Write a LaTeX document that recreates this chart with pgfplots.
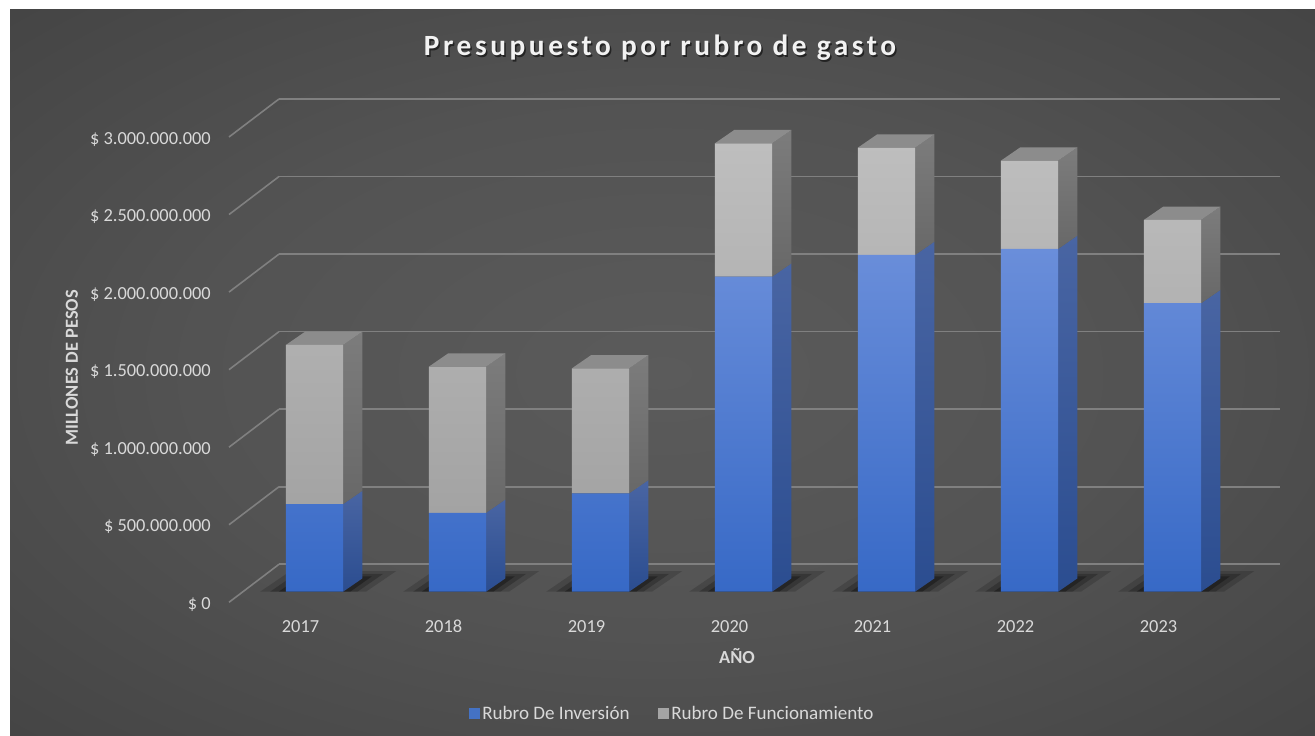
\documentclass[border=0pt]{standalone}
\usepackage{pgfplots}
\pgfplotsset{compat=1.18}
\usepackage{pgfplotstable}
\usepackage{fontspec}
\setmainfont{Carlito}
\newfontfamily\titlefont[LetterSpace=12.2]{Carlito}

\definecolor{blueT}{HTML}{6A8EDA}
\definecolor{blueB}{HTML}{3769C6}
\definecolor{bsideT}{HTML}{4965A3}
\definecolor{bsideB}{HTML}{2B4D90}
\definecolor{grayT}{HTML}{BEBEBE}
\definecolor{grayB}{HTML}{A3A3A3}
\definecolor{gsideT}{HTML}{7C7C7C}
\definecolor{gsideB}{HTML}{686868}
\definecolor{gtop}{HTML}{8C8C8C}
\definecolor{gridc}{HTML}{808080}
\definecolor{txt}{HTML}{D9D9D9}
\definecolor{legblue}{HTML}{4472C4}
\definecolor{leggray}{HTML}{A5A5A5}
\definecolor{bgA}{HTML}{5B5B5B}
\definecolor{bgB}{HTML}{535353}
\definecolor{bgC}{HTML}{3D3D3D}
\definecolor{bgD}{HTML}{292929}

\pgfdeclareradialshading{bgshade}{\pgfpoint{0bp}{0bp}}{color(0bp)=(bgA); color(18bp)=(bgB); color(45bp)=(bgC); color(72bp)=(bgD)}

% values in millions of pesos
\pgfplotstableread{
x year inv fun
0 2017 565 1026
1 2018 509 942
2 2019 634 806
3 2020 2031 860
4 2021 2171 692
5 2022 2210 569
6 2023 1860 537
}\datatable

\pgfplotsset{base/.style={scale only axis, width=750.75pt, height=348.975pt,
  xmin=-0.5, xmax=6.5, ymin=0, ymax=3000, clip=false}}

\begin{document}
\begin{tikzpicture}[x=0.75pt,y=0.75pt]
\useasboundingbox (0,0) rectangle (1315,736);
\fill[white] (0,0) rectangle (1315,736);
\shade[shading=bgshade] (10,0) rectangle (1315,726);
\coordinate (BW) at (279,171.7);
\coordinate (BP) at (243,144.3);

% back wall grid
\begin{axis}[base, at={(BW)}, anchor=south west,
  axis line style={draw=none}, tick style={draw=none},
  xtick=\empty, ytick={0,500,...,3000},
  yticklabel style={text opacity=0, opacity=0},
  ymajorgrids, grid style={gridc, line width=1.2pt}]
\end{axis}
% side wall lines
\foreach \k in {0,...,6} \draw[gridc, line width=1.2pt] (229,{133.7+\k*77.55}) -- ++(50,38);

% shadows, side and top faces
\begin{axis}[base, at={(BP)}, anchor=south west, hide axis]
\pgfplotsinvokeforeach{0,...,6}{%
  \pgfplotstablegetelem{#1}{inv}\of\datatable
  \pgfmathsetmacro\vi{\pgfplotsretval}%
  \pgfplotstablegetelem{#1}{fun}\of\datatable
  \pgfmathsetmacro\vt{\vi+\pgfplotsretval}%
  \pgfmathsetmacro\xl{#1-0.2}%
  \pgfmathsetmacro\xr{#1+0.2}%
  \pgfmathsetmacro\xlb{#1-0.2+0.135}%
  \pgfmathsetmacro\xrb{#1+0.2+0.135}%
  \pgfmathsetmacro\vib{\vi+85.8}%
  \pgfmathsetmacro\vtb{\vt+85.8}%
  \pgfmathsetmacro\sal{#1-0.2-0.18}\pgfmathsetmacro\sar{#1+0.2+0.16}%
  \pgfmathsetmacro\sbl{#1-0.2-0.18+0.21}\pgfmathsetmacro\sbr{#1+0.2+0.16+0.21}%
  \pgfmathsetmacro\tal{#1-0.2-0.11}\pgfmathsetmacro\tar{#1+0.2+0.10}%
  \pgfmathsetmacro\tbl{#1-0.2-0.11+0.18}\pgfmathsetmacro\tbr{#1+0.2+0.10+0.18}%
  \pgfmathsetmacro\ual{#1-0.2-0.05}\pgfmathsetmacro\uar{#1+0.2+0.05}%
  \pgfmathsetmacro\ubl{#1-0.2-0.05+0.15}\pgfmathsetmacro\ubr{#1+0.2+0.05+0.15}%
  \edef\tmp{%
    \noexpand\addplot[draw=none, fill=black, fill opacity=0.16, forget plot]
      coordinates {(\sal,0) (\sar,0) (\sbr,132) (\sbl,132)} -- cycle;
    \noexpand\addplot[draw=none, fill=black, fill opacity=0.22, forget plot]
      coordinates {(\tal,0) (\tar,0) (\tbr,115) (\tbl,115)} -- cycle;
    \noexpand\addplot[draw=none, fill=black, fill opacity=0.30, forget plot]
      coordinates {(\ual,0) (\uar,0) (\ubr,98) (\ubl,98)} -- cycle;
    \noexpand\addplot[draw=none, top color=bsideT, bottom color=bsideB, forget plot]
      coordinates {(\xr,0) (\xrb,85.8) (\xrb,\vib) (\xr,\vi)} -- cycle;
    \noexpand\addplot[draw=none, top color=gsideT, bottom color=gsideB, forget plot]
      coordinates {(\xr,\vi) (\xrb,\vib) (\xrb,\vtb) (\xr,\vt)} -- cycle;
    \noexpand\addplot[draw=none, fill=gtop, forget plot]
      coordinates {(\xl,\vt) (\xlb,\vtb) (\xrb,\vtb) (\xr,\vt)} -- cycle;
  }\tmp
}
\end{axis}

% front faces
\begin{axis}[base, at={(BP)}, anchor=south west,
  ybar stacked, bar width=0.4,
  axis line style={draw=none}, tick style={draw=none},
  xtick={0,1,2,3,4,5,6},
  xticklabels={2017,2018,2019,2020,2021,2022,2023},
  ytick={0,500,1000,1500,2000,2500,3000},
  yticklabels={\$ 0,\$ 500.000.000,\$ 1.000.000.000,\$ 1.500.000.000,\$ 2.000.000.000,\$ 2.500.000.000,\$ 3.000.000.000},
  xticklabel style={anchor=base, inner sep=0pt, xshift=-10.5pt, yshift=-30.4pt, text=txt, font=\fontsize{13.8}{16}\selectfont},
  yticklabel style={anchor=base east, inner sep=0pt, xshift=-24pt, yshift=-13.2pt, text=txt, font=\fontsize{13.8}{16}\selectfont},
  legend image code/.code={\fill[#1] (0pt,-4.1pt) rectangle (8.25pt,4.1pt);},
  legend columns=2,
  legend style={at={(axis description cs:0.429,-0.262)}, anchor=center, draw=none, fill=none,
    text=txt, font=\fontsize{14.3}{16}\selectfont,
    nodes={inner sep=1.5pt},
    /tikz/every even column/.append style={column sep=20pt}},
]
\addplot[draw=none, top color=blueT, bottom color=blueB, forget plot] table[x=x, y=inv]{\datatable};
\addplot[draw=none, top color=grayT, bottom color=grayB, forget plot] table[x=x, y=fun]{\datatable};
\addlegendimage{fill=legblue, draw=none}
\addlegendentry{Rubro De Inversión}
\addlegendimage{fill=leggray, draw=none}
\addlegendentry{Rubro De Funcionamiento}
\end{axis}

% titles
\node[anchor=base, text=black, opacity=0.55, font=\titlefont\bfseries\fontsize{22}{26}\selectfont] at (661.5,678.8) {Presupuesto por rubro de gasto};
\node[anchor=base, text=white!95!black, font=\titlefont\bfseries\fontsize{22}{26}\selectfont] at (660,680.3) {Presupuesto por rubro de gasto};
\node[rotate=90, text=txt, font=\bfseries\fontsize{13.8}{16}\selectfont] at (72,368) {MILLONES DE PESOS};
\node[text=txt, font=\bfseries\fontsize{13.8}{16}\selectfont] at (737,80) {AÑO};
\end{tikzpicture}
\end{document}
